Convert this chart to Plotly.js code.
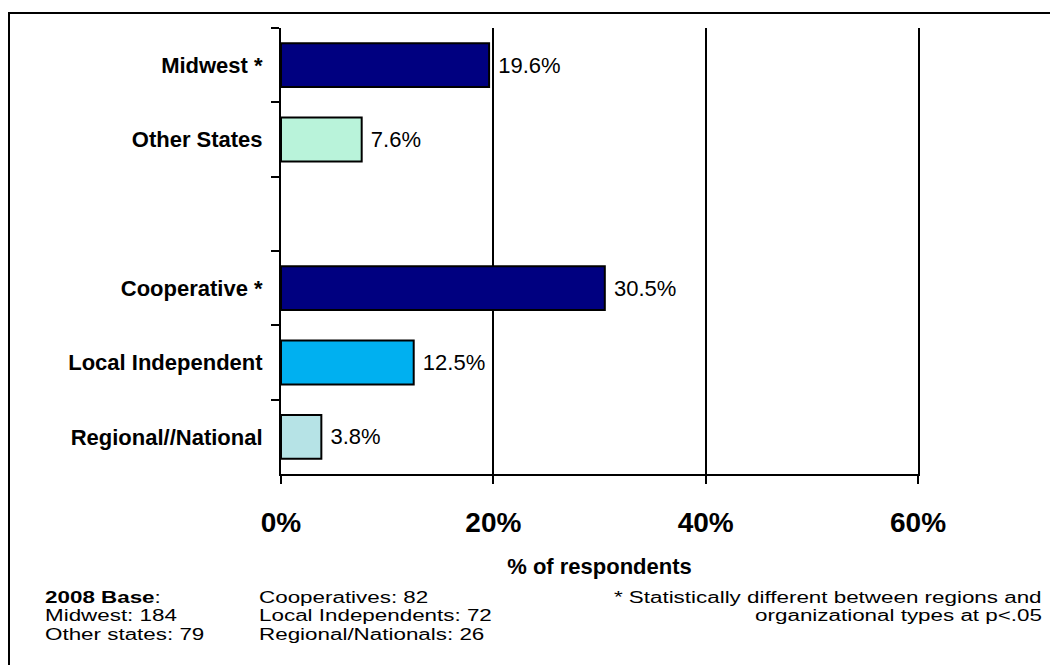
<!DOCTYPE html>
<html><head><meta charset="utf-8">
<script src="https://cdn.plot.ly/plotly-3.0.1.min.js"></script>
<style>html,body{margin:0;padding:0;background:#fff;overflow:hidden}#chart{width:1050px;height:665px}</style>
</head><body><div id="chart"></div>
<script>
// ---- data ----
const categories = ["Midwest *", "Other States", " ", "Cooperative *", "Local Independent", "Regional//National"];
const values = [19.6, 7.6, null, 30.5, 12.5, 3.8];
const barColors = ["#000080", "#B9F3DA", "#ffffff", "#000080", "#00B0F0", "#B6E3E6"];
const xTickVals = [0, 20, 40, 60];
const xTickText = ["0%", "20%", "40%", "60%"];
const baseTitle = "2008 Base";
const baseCol1 = ["Midwest: 184", "Other states: 79"];
const baseCol2 = ["Cooperatives: 82", "Local Independents: 72", "Regional/Nationals: 26"];
const noteLines = ["* Statistically different between regions and", "organizational types at p<.05"];

// ---- geometry helpers (plot area in pixels) ----
const W = 1050, H = 665, L = 281, R = 918, T = 28, B = 474;
const px = v => (v - L) / (R - L);
const py = v => (B - v) / (B - T);
const FONT = "Liberation Sans, Arial, Helvetica, sans-serif";
const rows = [597, 615.5, 634];

const trace = {
  type: "bar",
  orientation: "h",
  y: categories,
  x: values,
  marker: {color: barColors, line: {color: "#000", width: 2}},
  text: values.map(v => v == null ? "" : "\u00a0" + v.toFixed(1) + "%"),
  textposition: "outside",
  cliponaxis: false,
  textfont: {family: FONT, size: 22, color: "#000"},
  hoverinfo: "skip"
};

const annotations = [];
const note = (text, x, y, anchor) => annotations.push({
  text: text, xref: "paper", yref: "paper", x: px(x), y: py(y),
  xanchor: anchor, yanchor: "middle", showarrow: false, borderpad: 0,
  font: {family: FONT, size: 16, color: "#000"}
});
note("<b>" + baseTitle + "</b>:", 44, rows[0], "left");
baseCol1.forEach((t, i) => note(t, 44, rows[i + 1], "left"));
baseCol2.forEach((t, i) => note(t, 258, rows[i], "left"));
noteLines.forEach((t, i) => note(t, 1043, rows[i], "right"));

const layout = {
  width: W, height: H,
  margin: {l: L, r: W - R, t: T, b: H - B, pad: 0},
  paper_bgcolor: "#fff", plot_bgcolor: "#fff",
  showlegend: false,
  bargap: 0.41,
  font: {family: FONT, color: "#000"},
  xaxis: {
    range: [0, 60], tickvals: xTickVals, ticktext: xTickText,
    showgrid: true, gridcolor: "#000", gridwidth: 2, zeroline: false,
    showline: true, linecolor: "#000", linewidth: 2,
    ticks: "outside", ticklen: 8, tickwidth: 2, tickcolor: "#000",
    tickfont: {family: FONT, size: 28, color: "#000", weight: "bold"},
    ticklabelstandoff: 14,
    title: {text: "% of respondents", standoff: 22, font: {family: FONT, size: 22, color: "#000", weight: "bold"}}
  },
  yaxis: {
    type: "category", categoryorder: "array", categoryarray: categories,
    range: [5.5, -0.5], tickson: "boundaries",
    ticks: "outside", ticklen: 8, tickwidth: 2, tickcolor: "#000",
    showline: true, mirror: true, linecolor: "#000", linewidth: 2, showgrid: false, zeroline: false,
    tickfont: {family: FONT, size: 22, color: "#000", weight: "bold"},
    ticklabelstandoff: 12
  },
  shapes: [{
    type: "rect", xref: "paper", yref: "paper",
    x0: px(9), x1: px(1070), y0: py(13), y1: py(700),
    line: {color: "#000", width: 2}, layer: "below"
  }],
  annotations: annotations
};

Plotly.newPlot("chart", [trace], layout, {staticPlot: true, displayModeBar: false}).then(gd => {
  // the reference footnote lettering is horizontally stretched
  const texts = gd.querySelectorAll(".annotation-text");
  texts.forEach((t, i) => {
    const ann = layout.annotations[i];
    t.style.transformBox = "fill-box";
    t.style.transformOrigin = (ann.xanchor === "right" ? "right" : "left") + " center";
    t.style.transform = "scaleX(1.4)";
  });
});
</script>
</body></html>
